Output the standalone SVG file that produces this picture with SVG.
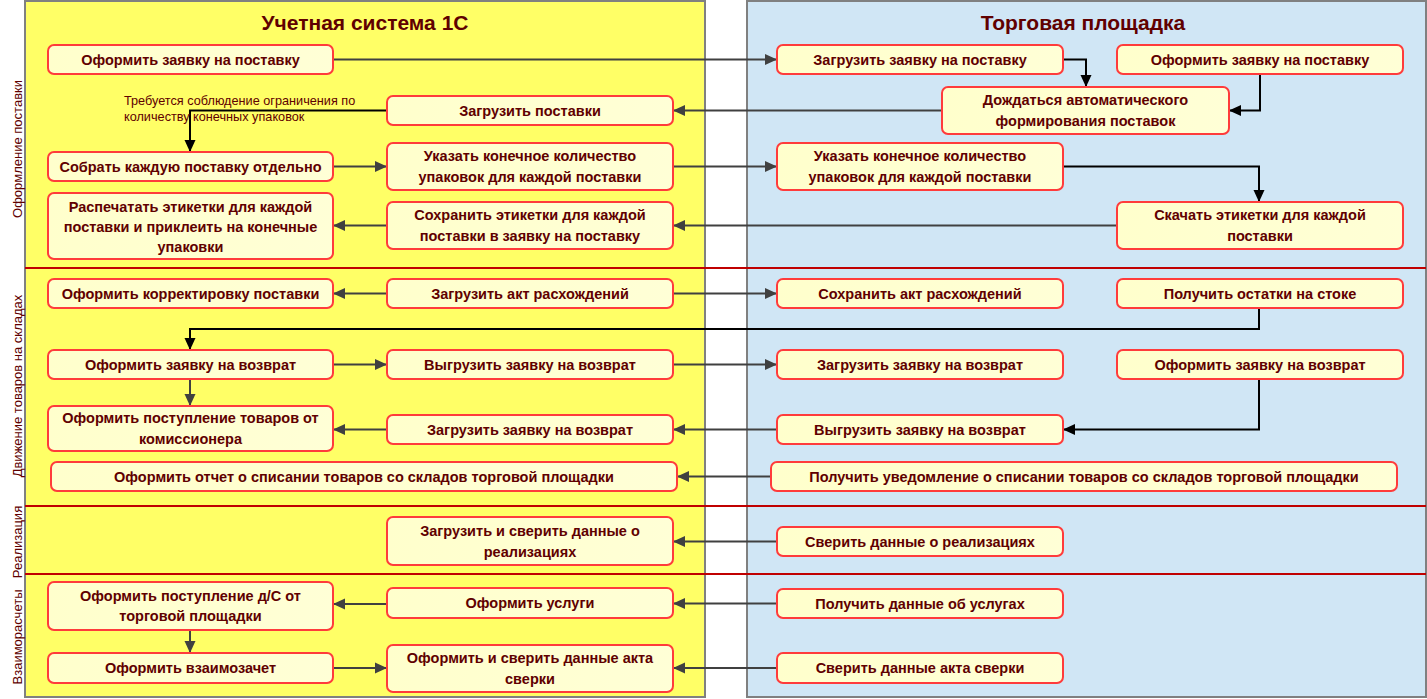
<svg xmlns="http://www.w3.org/2000/svg" width="1427" height="699" viewBox="0 0 1427 699">
<defs>
<linearGradient id="ng" x1="0" y1="0" x2="1" y2="0">
<stop offset="0" stop-color="#FFFFCC"/>
<stop offset="1" stop-color="#FFFFD6"/>
</linearGradient>
<marker id="ag" viewBox="0 0 12 12" refX="12" refY="6" markerWidth="12" markerHeight="12" markerUnits="userSpaceOnUse" orient="auto">
<path d="M0,0.5 L12,6 L0,11.5 z" fill="#404040"/>
</marker>
<marker id="ak" viewBox="0 0 12 12" refX="12" refY="6" markerWidth="12" markerHeight="12" markerUnits="userSpaceOnUse" orient="auto">
<path d="M0,0.5 L12,6 L0,11.5 z" fill="#000000"/>
</marker>
</defs>
<style>
.panel{stroke:#808080;stroke-width:2}
.sep{stroke:#C00000;stroke-width:2}
.title{font-family:"Liberation Sans",Arial,sans-serif;font-weight:bold;font-size:21px;fill:#600000;text-anchor:middle}
.lane{font-family:"Liberation Sans",Arial,sans-serif;font-size:13px;fill:#600000;text-anchor:middle}
.note{font-family:"Liberation Sans",Arial,sans-serif;font-size:12.7px;fill:#600000}
.node rect{fill:url(#ng);stroke:#FF3B3B;stroke-width:2}
.node text{font-family:"Liberation Sans",Arial,sans-serif;font-weight:bold;font-size:14.5px;fill:#600000;text-anchor:middle}
.c{fill:none;stroke:#404040;stroke-width:2;marker-end:url(#ag)}
.k{fill:none;stroke:#000000;stroke-width:2;marker-end:url(#ak)}
</style>
<rect width="1427" height="699" fill="#FFFFFF"/>
<g id="panels">
<rect class="panel" x="25" y="1" width="680" height="696" fill="#FFFF66"/>
<rect class="panel" x="747" y="1" width="679" height="696" fill="#D0E6F5"/>
<line class="sep" x1="25" y1="268" x2="1426" y2="268"/>
<line class="sep" x1="25" y1="506" x2="1426" y2="506"/>
<line class="sep" x1="25" y1="574" x2="1426" y2="574"/>
<text class="title" x="365" y="30">Учетная система 1С</text>
<text class="title" x="1083" y="30">Торговая площадка</text>
<text class="lane" transform="translate(22,149) rotate(-90)">Оформление поставки</text>
<text class="lane" transform="translate(22,386) rotate(-90)">Движение товаров на складах</text>
<text class="lane" transform="translate(22,542) rotate(-90)">Реализация</text>
<text class="lane" transform="translate(22,637) rotate(-90)">Взаиморасчеты</text>
</g>
<g id="connectors">
<path class="c" d="M333,59.5 H777"/>
<path class="k" d="M1063,59.5 H1086 V87"/>
<path class="k" d="M1260,74 V110.5 H1229"/>
<path class="c" d="M942,110.5 H673"/>
<path class="k" d="M387,110.5 H190 V152"/>
<path class="c" d="M333,166.5 H387"/>
<path class="c" d="M673,166.5 H777"/>
<path class="k" d="M1063,166.5 H1259 V202"/>
<path class="c" d="M1117,225.5 H673"/>
<path class="c" d="M387,225.5 H333"/>
<path class="c" d="M387,293.5 H333"/>
<path class="c" d="M673,293.5 H777"/>
<path class="k" d="M1259,308 V329 H190 V350"/>
<path class="c" d="M333,364.5 H387"/>
<path class="c" d="M673,364.5 H777"/>
<path class="c" d="M190,379 V406"/>
<path class="k" d="M1259,379 V429.5 H1063"/>
<path class="c" d="M777,429.5 H673"/>
<path class="c" d="M387,429.5 H333"/>
<path class="c" d="M771,476.5 H677"/>
<path class="c" d="M777,541.5 H673"/>
<path class="c" d="M387,604 H333"/>
<path class="c" d="M777,603.5 H673"/>
<path class="c" d="M190,630 V653"/>
<path class="c" d="M333,668 H387"/>
<path class="c" d="M777,668 H673"/>
<text class="note" x="124" y="105">Требуется соблюдение ограничения по</text>
<text class="note" x="124" y="121">количеству конечных упаковок</text>
</g>
<g id="n1" class="node"><rect x="48" y="45" width="285" height="29" rx="6"/><text x="190.5" y="64.5">Оформить заявку на поставку</text></g>
<g id="n2" class="node"><rect x="387" y="96" width="286" height="29" rx="6"/><text x="530" y="115.5">Загрузить поставки</text></g>
<g id="n3" class="node"><rect x="48" y="152" width="285" height="29" rx="6"/><text x="190.5" y="171.5">Собрать каждую поставку отдельно</text></g>
<g id="n4" class="node"><rect x="387" y="143" width="286" height="47" rx="6"/><text x="530" y="161">Указать конечное количество</text><text x="530" y="182">упаковок для каждой поставки</text></g>
<g id="n5" class="node"><rect x="48" y="193" width="285" height="66" rx="6"/><text x="190.5" y="212">Распечатать этикетки для каждой</text><text x="190.5" y="232">поставки и приклеить на конечные</text><text x="190.5" y="252">упаковки</text></g>
<g id="n6" class="node"><rect x="387" y="202" width="286" height="47" rx="6"/><text x="530" y="220">Сохранить этикетки для каждой</text><text x="530" y="241">поставки в заявку на поставку</text></g>
<g id="n7" class="node"><rect x="777" y="45" width="286" height="29" rx="6"/><text x="920" y="64.5">Загрузить заявку на поставку</text></g>
<g id="n8" class="node"><rect x="1117" y="45" width="286" height="29" rx="6"/><text x="1260" y="64.5">Оформить заявку на поставку</text></g>
<g id="n9" class="node"><rect x="942" y="87" width="287" height="47" rx="6"/><text x="1085.5" y="105">Дождаться автоматического</text><text x="1085.5" y="126">формирования поставок</text></g>
<g id="n10" class="node"><rect x="777" y="143" width="286" height="47" rx="6"/><text x="920" y="161">Указать конечное количество</text><text x="920" y="182">упаковок для каждой поставки</text></g>
<g id="n11" class="node"><rect x="1117" y="202" width="286" height="47" rx="6"/><text x="1260" y="220">Скачать этикетки для каждой</text><text x="1260" y="241">поставки</text></g>
<g id="n12" class="node"><rect x="48" y="279" width="285" height="29" rx="6"/><text x="190.5" y="298.5">Оформить корректировку поставки</text></g>
<g id="n13" class="node"><rect x="387" y="279" width="286" height="29" rx="6"/><text x="530" y="298.5">Загрузить акт расхождений</text></g>
<g id="n19" class="node"><rect x="777" y="279" width="286" height="29" rx="6"/><text x="920" y="298.5">Сохранить акт расхождений</text></g>
<g id="n20" class="node"><rect x="1117" y="279" width="286" height="29" rx="6"/><text x="1260" y="298.5">Получить остатки на стоке</text></g>
<g id="n14" class="node"><rect x="48" y="350" width="285" height="29" rx="6"/><text x="190.5" y="369.5">Оформить заявку на возврат</text></g>
<g id="n15" class="node"><rect x="387" y="350" width="286" height="29" rx="6"/><text x="530" y="369.5">Выгрузить заявку на возврат</text></g>
<g id="n21" class="node"><rect x="777" y="350" width="286" height="29" rx="6"/><text x="920" y="369.5">Загрузить заявку на возврат</text></g>
<g id="n22" class="node"><rect x="1117" y="350" width="286" height="29" rx="6"/><text x="1260" y="369.5">Оформить заявку на возврат</text></g>
<g id="n16" class="node"><rect x="48" y="406" width="285" height="45" rx="6"/><text x="190.5" y="423">Оформить поступление товаров от</text><text x="190.5" y="443.5">комиссионера</text></g>
<g id="n17" class="node"><rect x="387" y="415" width="286" height="29" rx="6"/><text x="530" y="434.5">Загрузить заявку на возврат</text></g>
<g id="n23" class="node"><rect x="777" y="415" width="286" height="29" rx="6"/><text x="920" y="434.5">Выгрузить заявку на возврат</text></g>
<g id="n18" class="node"><rect x="51" y="462" width="626" height="29" rx="6"/><text x="364" y="481.5">Оформить отчет о списании товаров со складов торговой площадки</text></g>
<g id="n24" class="node"><rect x="771" y="462" width="626" height="29" rx="6"/><text x="1084" y="481.5">Получить уведомление о списании товаров со складов торговой площадки</text></g>
<g id="n25" class="node"><rect x="387" y="517" width="286" height="48" rx="6"/><text x="530" y="536">Загрузить и сверить данные о</text><text x="530" y="556.5">реализациях</text></g>
<g id="n26" class="node"><rect x="777" y="527" width="286" height="29" rx="6"/><text x="920" y="546.5">Сверить данные о реализациях</text></g>
<g id="n27" class="node"><rect x="48" y="582" width="285" height="48" rx="6"/><text x="190.5" y="601">Оформить поступление д/С от</text><text x="190.5" y="621">торговой площадки</text></g>
<g id="n28" class="node"><rect x="387" y="588" width="286" height="30" rx="6"/><text x="530" y="608">Оформить услуги</text></g>
<g id="n31" class="node"><rect x="777" y="589" width="286" height="29" rx="6"/><text x="920" y="608.5">Получить данные об услугах</text></g>
<g id="n29" class="node"><rect x="48" y="653" width="285" height="30" rx="6"/><text x="190.5" y="673">Оформить взаимозачет</text></g>
<g id="n30" class="node"><rect x="387" y="645" width="286" height="47" rx="6"/><text x="530" y="663">Оформить и сверить данные акта</text><text x="530" y="683.5">сверки</text></g>
<g id="n32" class="node"><rect x="777" y="653" width="286" height="30" rx="6"/><text x="920" y="673">Сверить данные акта сверки</text></g>
</svg>
